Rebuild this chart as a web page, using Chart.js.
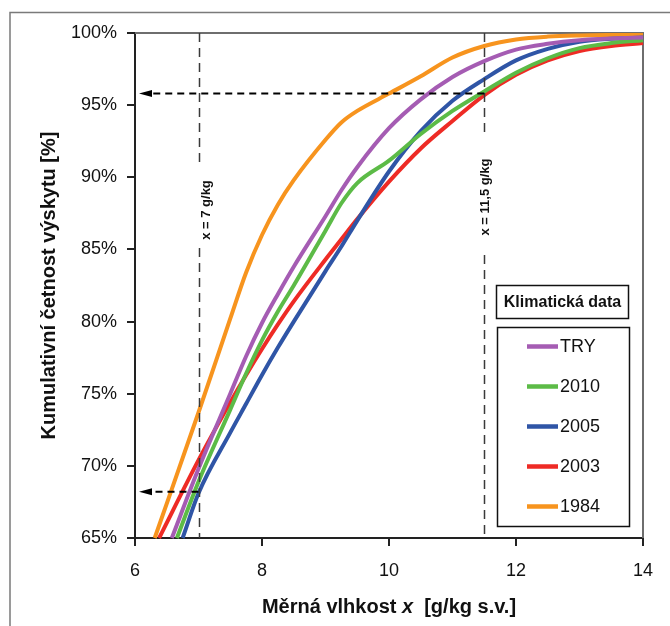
<!DOCTYPE html>
<html>
<head>
<meta charset="utf-8">
<script src="https://cdn.jsdelivr.net/npm/chart.js@4.4.0/dist/chart.umd.min.js"></script>
<style>
  html, body { margin: 0; padding: 0; background: #ffffff; }
  #wrap { width: 670px; height: 626px; position: relative; }
</style>
</head>
<body>
<div id="wrap"><canvas id="c" width="670" height="626"></canvas></div>
<script>
// ---- data ----
const xGrid = [7, 7.5, 7.75, 8, 8.25, 8.5, 9, 9.25, 9.5, 10, 10.5, 11, 11.5, 12, 12.5, 13, 13.5, 14];
const seriesLabels = ['TRY', '2010', '2005', '2003', '1984'];
const seriesColors = ['#A55CB3', '#5CBB47', '#2F55A6', '#EE2B25', '#F7941E'];
const startX = [6.58, 6.66, 6.75, 6.38, 6.31];   // x where each curve enters at 65 %
const startY = 65;
const valuesTRY  = [69.8, 75.0, 77.6, 79.9, 81.9, 83.8, 87.3, 89.1, 90.7, 93.4, 95.4, 96.95, 98.05, 98.85, 99.25, 99.5, 99.62, 99.68];
const values2010 = [68.9, 73.9, 76.4, 78.7, 80.7, 82.5, 86.3, 88.2, 89.6, 91.15, 93.0, 94.6, 95.95, 97.25, 98.25, 98.95, 99.3, 99.5];
const values2005 = [68.1, 72.3, 74.3, 76.3, 78.2, 80.0, 83.5, 85.2, 87.0, 90.4, 93.2, 95.3, 96.8, 98.1, 98.9, 99.4, 99.6, 99.68];
const values2003 = [70.4, 74.4, 76.3, 78.1, 79.8, 81.4, 84.3, 85.7, 87.1, 89.7, 92.0, 93.9, 95.7, 97.1, 98.1, 98.75, 99.1, 99.3];
const values1984 = [73.7, 80.2, 83.4, 86.0, 88.1, 89.8, 92.6, 93.8, 94.6, 95.8, 97.0, 98.3, 99.1, 99.55, 99.75, 99.83, 99.86, 99.87];
const xTicks = [6, 8, 10, 12, 14];
const yTicks = [65, 70, 75, 80, 85, 90, 95, 100];
const markerX = [7, 11.5];
const markerLabels = ['x = 7 g/kg', 'x = 11,5 g/kg'];
const arrowLevels = [95.8, 68.2];     // read at x = 11.5 and x = 7
const arrowFromX = [11.5, 7];
const legendTitle = 'Klimatická data';
const xTitleParts = ['Měrná vlhkost ', 'x', '  [g/kg s.v.]'];
const yTitle = 'Kumulativní četnost výskytu [%]';

const allValues = [valuesTRY, values2010, values2005, values2003, values1984];
const FONT = "'Liberation Sans', Arial, sans-serif";
Chart.defaults.font.family = FONT;

const datasets = seriesLabels.map((lab, i) => ({
  label: lab,
  data: [{x: startX[i], y: startY}].concat(xGrid.map((x, j) => ({x: x, y: allValues[i][j]}))),
  borderColor: seriesColors[i],
  backgroundColor: seriesColors[i],
  borderWidth: 4,
  pointRadius: 0,
  cubicInterpolationMode: 'monotone',
  fill: false,
  clip: false
}));

const decor = {
  id: 'decor',
  beforeDraw(chart) {
    const ctx = chart.ctx;
    ctx.save();
    ctx.fillStyle = '#fff';
    ctx.fillRect(0, 0, chart.width, chart.height);
    ctx.strokeStyle = '#7a7a7a';
    ctx.lineWidth = 1.5;
    ctx.beginPath();
    ctx.moveTo(10, 626); ctx.lineTo(10, 12.5); ctx.lineTo(670, 12.5);
    ctx.stroke();
    ctx.restore();
  },
  beforeDatasetsDraw(chart) {
    const ctx = chart.ctx, a = chart.chartArea;
    ctx.save();
    ctx.strokeStyle = '#6e6e6e';
    ctx.lineWidth = 2;
    ctx.beginPath();
    ctx.moveTo(a.left, a.top); ctx.lineTo(a.right, a.top); ctx.lineTo(a.right, a.bottom);
    ctx.stroke();
    ctx.restore();
  },
  afterDatasetsDraw(chart) {
    const ctx = chart.ctx, a = chart.chartArea;
    const xs = chart.scales.x, ys = chart.scales.y;
    ctx.save();
    const gaps = [[162, 248], [138, 255]];
    const labelX = [210, 489];
    const labelY = [210, 197];
    markerX.forEach((mx, i) => {
      const px = Math.round(xs.getPixelForValue(mx)) + 0.5;
      ctx.strokeStyle = '#3a3a3a';
      ctx.lineWidth = 1.5;
      ctx.setLineDash([9, 6]);
      ctx.beginPath();
      ctx.moveTo(px, a.top); ctx.lineTo(px, gaps[i][0]);
      ctx.moveTo(px, gaps[i][1]); ctx.lineTo(px, a.bottom);
      ctx.stroke();
      ctx.setLineDash([]);
      ctx.fillStyle = '#111';
      ctx.font = 'bold 13px ' + FONT;
      ctx.textAlign = 'center';
      ctx.textBaseline = 'alphabetic';
      ctx.save();
      ctx.translate(labelX[i], labelY[i]);
      ctx.rotate(-Math.PI / 2);
      ctx.fillText(markerLabels[i], 0, 0);
      ctx.restore();
    });
    arrowLevels.forEach((lv, i) => {
      const py = ys.getPixelForValue(lv);
      const x0 = xs.getPixelForValue(arrowFromX[i]);
      const tip = a.left + 4;
      ctx.strokeStyle = '#000';
      ctx.lineWidth = 2;
      ctx.setLineDash([7, 5]);
      ctx.beginPath();
      ctx.moveTo(x0, py); ctx.lineTo(tip + 12, py);
      ctx.stroke();
      ctx.setLineDash([]);
      ctx.fillStyle = '#000';
      ctx.beginPath();
      ctx.moveTo(tip, py);
      ctx.lineTo(tip + 13, py - 3.5);
      ctx.lineTo(tip + 13, py + 3.5);
      ctx.closePath();
      ctx.fill();
    });
    ctx.restore();
  },
  afterDraw(chart) {
    const ctx = chart.ctx, a = chart.chartArea;
    ctx.save();
    ctx.strokeStyle = '#111';
    ctx.lineWidth = 1.5;
    ctx.fillStyle = '#fff';
    ctx.fillRect(496, 285, 132, 33);
    ctx.strokeRect(496.5, 285.5, 132, 33);
    ctx.fillStyle = '#111';
    ctx.font = 'bold 16px ' + FONT;
    ctx.textAlign = 'center';
    ctx.textBaseline = 'middle';
    ctx.fillText(legendTitle, 562.5, 302.5);
    ctx.fillStyle = '#fff';
    ctx.fillRect(497, 327, 132, 199);
    ctx.strokeRect(497.5, 327.5, 132, 199);
    ctx.font = '18px ' + FONT;
    ctx.textAlign = 'left';
    chart.data.datasets.forEach((ds, i) => {
      const cy = 346.5 + i * 40;
      ctx.strokeStyle = ds.borderColor;
      ctx.lineWidth = 4.5;
      ctx.beginPath();
      ctx.moveTo(527, cy); ctx.lineTo(558, cy);
      ctx.stroke();
      ctx.fillStyle = '#111';
      ctx.fillText(ds.label, 560, cy + 1);
    });
    ctx.fillStyle = '#111';
    ctx.textBaseline = 'alphabetic';
    const fonts = ['bold 20px ' + FONT, 'italic bold 20px ' + FONT, 'bold 20px ' + FONT];
    const widths = xTitleParts.map((t, i) => { ctx.font = fonts[i]; return ctx.measureText(t).width; });
    const total = widths.reduce((s, w) => s + w, 0);
    let cx = (a.left + a.right) / 2 - total / 2;
    xTitleParts.forEach((t, i) => {
      ctx.font = fonts[i];
      ctx.textAlign = 'left';
      ctx.fillText(t, cx, 613);
      cx += widths[i];
    });
    ctx.font = 'bold 20px ' + FONT;
    ctx.textAlign = 'center';
    ctx.save();
    ctx.translate(55, (a.top + a.bottom) / 2);
    ctx.rotate(-Math.PI / 2);
    ctx.fillText(yTitle, 0, 0);
    ctx.restore();
    ctx.restore();
  }
};

new Chart(document.getElementById('c'), {
  type: 'line',
  data: { datasets: datasets },
  options: {
    responsive: false,
    animation: false,
    layout: { padding: { left: 0, top: 33, right: 27, bottom: 0 } },
    plugins: { legend: { display: false }, tooltip: { enabled: false } },
    scales: {
      x: {
        type: 'linear', min: 6, max: 14,
        afterBuildTicks: (s) => { s.ticks = xTicks.map(v => ({value: v})); },
        afterFit: (s) => { s.height = 88; },
        ticks: { color: '#111', font: { size: 18 }, padding: 14, maxRotation: 0 },
        grid: { drawOnChartArea: false, drawTicks: true, tickLength: 8, color: '#222', lineWidth: 2 },
        border: { display: true, color: '#222', width: 2 }
      },
      y: {
        type: 'linear', min: 65, max: 100,
        afterBuildTicks: (s) => { s.ticks = yTicks.map(v => ({value: v})); },
        afterFit: (s) => { s.width = 135; },
        ticks: { color: '#111', font: { size: 18 }, padding: 10, callback: (v) => v + '%' },
        grid: { drawOnChartArea: false, drawTicks: true, tickLength: 8, color: '#222', lineWidth: 2 },
        border: { display: true, color: '#222', width: 2 }
      }
    }
  },
  plugins: [decor]
});
</script>
</body>
</html>
